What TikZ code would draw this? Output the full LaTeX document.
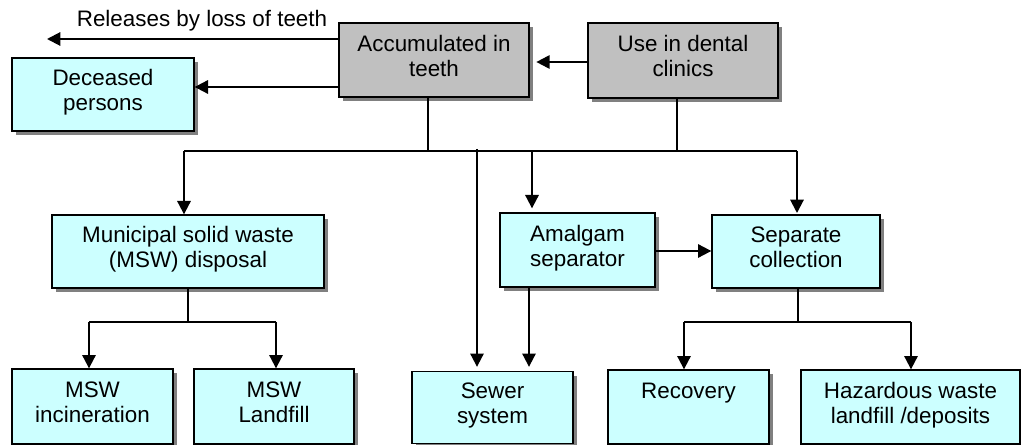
\documentclass[tikz,border=0pt]{standalone}
\usepackage{fontspec}
\setmainfont{Liberation Sans}
\usetikzlibrary{shadows,arrows.meta}
\definecolor{boxcyan}{HTML}{CCFFFF}
\definecolor{boxgray}{HTML}{C0C0C0}
\definecolor{shadowgray}{HTML}{808080}
\begin{document}
\begin{tikzpicture}[x=0.75pt,y=-0.75pt,
  every node/.style={font=\fontsize{16.8pt}{18.75pt}\selectfont},
  box/.style={draw=black, line width=1pt, align=center, inner sep=0pt,
    text height=30.75pt, text depth=6.25pt,
    drop shadow={shadow xshift=3pt, shadow yshift=-3pt, fill=shadowgray, opacity=1}},
  cyanbox/.style={box, fill=boxcyan},
  graybox/.style={box, fill=boxgray},
  arr/.style={line width=1.5pt, -{Triangle[length=10pt,width=10pt]}},
  ln/.style={line width=0.8pt}]
\useasboundingbox (0,0) rectangle (1021,445);

% boxes
\node[graybox, minimum width=142.5pt, minimum height=55.5pt] (acc) at (434,60) {Accumulated in\\teeth};
\node[graybox, minimum width=142.5pt, minimum height=56.25pt] (use) at (683,60.5) {Use in dental\\clinics};
\node[cyanbox, minimum width=136.5pt, minimum height=54.75pt] (dec) at (103,94.5) {Deceased\\persons};
\node[cyanbox, minimum width=204pt, minimum height=54.75pt] (msw) at (188,251.5) {Municipal solid waste\\(MSW) disposal};
\node[cyanbox, minimum width=116.25pt, minimum height=55.5pt] (amal) at (577.5,250) {Amalgam\\separator};
\node[cyanbox, minimum width=126pt, minimum height=54.75pt] (sep) at (796,251.5) {Separate\\collection};
\node[cyanbox, minimum width=120.75pt, minimum height=56.25pt] (inc) at (92.5,406.5) {MSW\\incineration};
\node[cyanbox, minimum width=120pt, minimum height=56.25pt] (land) at (274,406.5) {MSW\\Landfill};
\node[cyanbox, minimum width=120.75pt, minimum height=54pt] (sew) at (492.5,407.5) {Sewer\\system};
\node[cyanbox, minimum width=120.75pt, minimum height=55.5pt] (rec) at (688.5,407) {Recovery\\\strut};
\node[cyanbox, minimum width=164.25pt, minimum height=55.5pt] (haz) at (910.5,407) {Hazardous waste\\landfill /deposits};

% label
\node[anchor=base] (rel) at (202,27) {Releases by loss of teeth};

% coordinates
\coordinate (relend) at (47,39);
\coordinate (jacc) at (428,151);
\coordinate (juse) at (677,151);
\coordinate (busL) at (184,151);
\coordinate (busR) at (797,151);
\coordinate (jam) at (532,151);
\coordinate (jsew) at (477,149);
\coordinate (jmsw) at (188,322);
\coordinate (jinc) at (89,322);
\coordinate (jland) at (276,322);
\coordinate (jsep) at (798,322);
\coordinate (jrec) at (684,322);
\coordinate (jhaz) at (911,322);

% top connectors
\draw[arr] (acc.west |- relend) -- (relend);
\draw[arr] (acc.west |- 0,87) -- (dec.east |- 0,87);
\draw[arr, shorten >=5pt] (use.west |- 0,62) -- (acc.east |- 0,62);
\draw[ln] (acc.south -| jacc) -- (jacc);
\draw[ln] (use.south -| juse) -- (juse);
\draw[ln] (busL) -- (busR);
\draw[arr] (busL) -- (msw.north -| busL);
\draw[arr, shorten >=3pt] (jam) -- (amal.north -| jam);
\draw[arr, shorten >=1pt] (busR) -- (sep.north -| busR);
\draw[arr, shorten >=3pt] (jsew) -- (sew.north -| jsew);
\draw[arr] (amal.east |- 0,251) -- (sep.west |- 0,251);
\draw[arr, shorten >=3pt] (amal.south -| 529,0) -- (sew.north -| 529,0);

% lower left
\draw[ln] (msw.south) -- (jmsw);
\draw[ln] (jinc) -- (jland);
\draw[arr] (jinc) -- (inc.north -| jinc);
\draw[arr] (jland) -- (land.north -| jland);

% lower right
\draw[ln] (sep.south -| jsep) -- (jsep);
\draw[ln] (jrec) -- (jhaz);
\draw[arr] (jrec) -- (rec.north -| jrec);
\draw[arr] (jhaz) -- (haz.north -| jhaz);
\end{tikzpicture}
\end{document}
